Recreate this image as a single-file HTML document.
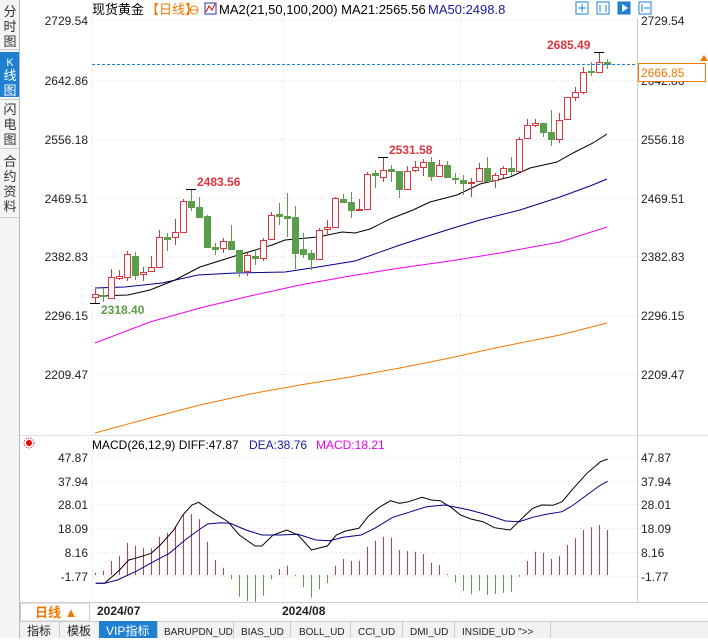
<!DOCTYPE html>
<html><head><meta charset="utf-8"><style>
body{margin:0;width:708px;height:638px;overflow:hidden;background:#fff;font-family:"Liberation Sans","Noto Sans CJK SC",sans-serif;}
svg text{font-family:"Liberation Sans","Noto Sans CJK SC",sans-serif;}
</style></head><body>
<svg id="s" width="708" height="638" xmlns="http://www.w3.org/2000/svg">
<rect x="0" y="0" width="708" height="638" fill="#fff"/>
<rect x="0" y="0" width="19" height="638" fill="#f4f4f4"/>
<line x1="19.5" y1="0" x2="19.5" y2="638" stroke="#bbb"/>
<rect x="0" y="52" width="19" height="45" fill="#1f7fd0"/>
<g font-size="13" fill="#333" text-anchor="middle">
<text x="10" y="16">分</text><text x="10" y="31">时</text><text x="10" y="46">图</text>
<text x="10" y="66" fill="#fff" font-size="11">K</text><text x="10" y="80" fill="#fff">线</text><text x="10" y="95" fill="#fff">图</text>
<text x="10" y="114">闪</text><text x="10" y="129">电</text><text x="10" y="144">图</text>
<text x="10" y="166">合</text><text x="10" y="181">约</text><text x="10" y="196">资</text><text x="10" y="211">料</text>
</g>
<line x1="0" y1="49.5" x2="19" y2="49.5" stroke="#ccc"/><line x1="0" y1="99.5" x2="19" y2="99.5" stroke="#ccc"/><line x1="0" y1="148.5" x2="19" y2="148.5" stroke="#ccc"/><line x1="0" y1="217.5" x2="19" y2="217.5" stroke="#ccc"/>
<g id="g"></g>
<text x="92" y="14" font-size="13" fill="#000">现货黄金</text>
<text x="146" y="14" font-size="13" fill="#f07800">【日线】</text>
<circle cx="194" cy="10" r="4" fill="none" stroke="#f07800"/><line x1="190" y1="10" x2="198" y2="10" stroke="#f07800"/>
<rect x="205" y="3" width="11" height="11" fill="none" stroke="#1a3aa0"/><polyline points="206,12 209,6 212,10 215,4" fill="none" stroke="#d00"/>
<text x="219" y="14" font-size="13" fill="#000">MA2(21,50,100,200)  MA21:2565.56</text>
<text x="428" y="14" font-size="13" fill="#1a1aa0">MA50:2498.8</text>
<g fill="none" stroke="#1f7fd0"><rect x="576" y="2" width="12" height="12"/><rect x="597" y="2" width="12" height="12"/><rect x="618" y="2" width="12" height="12" fill="#1f7fd0"/><rect x="639" y="2" width="12" height="12"/></g>
<g stroke="#1f7fd0" fill="none"><line x1="582" y1="4" x2="582" y2="12"/><line x1="578" y1="8" x2="586" y2="8"/><line x1="600" y1="5" x2="600" y2="12"/><line x1="606" y1="5" x2="606" y2="12"/><line x1="642" y1="4" x2="642" y2="12"/><polyline points="644,8 650,8"/></g>
<polygon points="622,4 628,8 622,12" fill="#fff"/>
<line x1="20" y1="602.5" x2="708" y2="602.5" stroke="#ccc"/>
<rect x="20.5" y="603" width="69" height="18" fill="#fff" stroke="#ccc"/>
<text x="35" y="617" font-size="13" fill="#f07800" font-weight="bold">日线 ▲</text>
<text x="97" y="615" font-size="12" fill="#222" font-weight="bold">2024/07</text>
<text x="282" y="615" font-size="12" fill="#222" font-weight="bold">2024/08</text>
<rect x="20" y="621" width="688" height="17" fill="#f2f2f2"/>
<line x1="20" y1="621.5" x2="708" y2="621.5" stroke="#ccc"/>
<rect x="99" y="621" width="58" height="17" fill="#1f7fd0"/>
<g font-size="12" fill="#222"><text x="27" y="635">指标</text><text x="67" y="635">模板</text><text x="106" y="635" fill="#fff">VIP指标</text></g>
<g font-size="10" fill="#222" font-family="Liberation Mono"><text x="164" y="635">BARUPDN_UD</text><text x="241" y="635">BIAS_UD</text><text x="299" y="635">BOLL_UD</text><text x="358" y="635">CCI_UD</text><text x="410" y="635">DMI_UD</text><text x="462" y="635">INSIDE_UD ">></text></g>
<g stroke="#ccc"><line x1="59.5" y1="621" x2="59.5" y2="638"/><line x1="157.5" y1="621" x2="157.5" y2="638"/><line x1="233.5" y1="621" x2="233.5" y2="638"/><line x1="290.5" y1="621" x2="290.5" y2="638"/><line x1="350.5" y1="621" x2="350.5" y2="638"/><line x1="402.5" y1="621" x2="402.5" y2="638"/><line x1="454.5" y1="621" x2="454.5" y2="638"/><line x1="550.5" y1="621" x2="550.5" y2="638"/></g>
</svg>
<script>
var NS="http://www.w3.org/2000/svg",g=document.getElementById('g');
function el(t,a,txt){var e=document.createElementNS(NS,t);for(var k in a)e.setAttribute(k,a[k]);if(txt!=null)e.textContent=txt;g.appendChild(e);return e;}
var py=[20,80,139,198,256,315,374],pl=["2729.54","2642.86","2556.18","2469.51","2382.83","2296.15","2209.47"];
py.forEach(function(y,i){el('line',{x1:92,y1:y+.5,x2:637,y2:y+.5,stroke:'#ddd','stroke-dasharray':'1,3'});
el('text',{x:88,y:y+5,'font-size':12,fill:'#222','text-anchor':'end'},pl[i]);el('text',{x:641,y:y+5,'font-size':12,fill:'#222'},pl[i]);});
[92,283,460].forEach(function(x){el('line',{x1:x+.5,y1:18,x2:x+.5,y2:600,stroke:'#ddd','stroke-dasharray':'1,3'});});
el('line',{x1:637.5,y1:18,x2:637.5,y2:602,stroke:'#ccc'});
el('line',{x1:20,y1:435.5,x2:708,y2:435.5,stroke:'#ddd'});
var my=[457,481,504,528,552,576],ml=["47.87","37.94","28.01","18.09","8.16","-1.77"];
my.forEach(function(y,i){el('line',{x1:92,y1:y+.5,x2:637,y2:y+.5,stroke:'#ddd','stroke-dasharray':'1,3'});
el('text',{x:88,y:y+5,'font-size':12,fill:'#222','text-anchor':'end'},ml[i]);el('text',{x:641,y:y+5,'font-size':12,fill:'#222'},ml[i]);});
function pl2(pts,c){el('polyline',{points:pts.map(function(p){return p.join(',')}).join(' '),fill:'none',stroke:c,'stroke-width':1});}
pl2([[95,343],[150,322],[200,308],[250,296],[300,285],[350,276],[400,268],[450,261],[500,253],[560,242],[607,227]],'#ee00ee');
pl2([[95,433],[150,418],[200,405],[250,394],[300,385],[350,377],[400,368],[450,358],[500,347],[560,335],[607,323]],'#f07800');
pl2([[95,288],[125,287],[162,283],[198,275],[235,273],[285,272],[318,267],[355,261],[400,245],[450,229],[480,220],[520,210],[560,197],[590,186],[607,179]],'#00008b');
pl2([[95,296],[128,295],[150,290],[175,280],[200,267],[235,256],[272,245],[285,240],[318,237],[342,232],[355,233],[370,229],[390,219],[413,210],[430,202],[457,195],[480,184],[510,177],[530,168],[557,162],[573,153],[593,143],[607,134]],'#000');
var C=[[1,294,297,289,303],[0,295,296,288,302],[1,277,298,269,298],[1,276,278,270,280],[1,254,277,251,281],[0,256,275,252,280],[1,272,274,267,281],[1,267,271,256,271],[1,237,267,230,267],[0,237,239,233,251],
[1,232,237,219,245],[1,201,232,199,232],[0,201,207,189,211],[0,207,217,197,218],[0,216,247,215,247],[0,247,249,243,255],[1,241,248,238,253],[0,241,249,225,249],[0,250,271,250,277],[1,255,271,253,276],
[0,256,258,250,265],[1,240,258,238,261],[1,215,239,212,240],[0,214,216,203,225],[0,216,218,193,237],[0,217,253,206,269],[0,249,254,233,258],[0,253,259,250,270],[1,230,259,228,260],[1,227,229,220,234],
[1,198,227,197,227],[0,199,202,194,203],[0,202,210,192,218],[1,209,210,199,210],[1,174,209,172,209],[0,173,175,170,188],[1,170,177,157,182],[0,169,171,165,182],[0,171,189,171,198],[1,171,189,166,189],
[1,167,170,161,172],[1,162,167,159,176],[0,162,176,157,181],[1,165,176,160,176],[0,165,177,161,177],[0,178,179,173,184],[0,180,183,175,195],[1,182,183,178,197],[1,168,181,163,181],[0,168,181,157,181],
[1,175,180,173,188],[1,168,174,166,178],[0,168,171,157,176],[1,139,171,137,171],[1,125,138,119,138],[1,123,125,119,127],[0,123,132,123,137],[0,132,139,110,146],[1,120,139,113,143],[1,97,119,97,119],
[1,92,97,87,101],[1,72,92,67,94],[0,71,72,62,76],[1,62,72,52,72],[0,62,64,59,69]];
C.forEach(function(c,i){var x=95+8*i,col=c[0]?'#d9363e':'#5a9e4b';
el('line',{x1:x+.5,y1:c[3],x2:x+.5,y2:c[4],stroke:col});
var h=Math.max(1,c[2]-c[1]);
if(c[0])el('rect',{x:x-2.5,y:c[1]+.5,width:6,height:h,fill:'#fff',stroke:col});
else el('rect',{x:x-3,y:c[1],width:7,height:h+1,fill:col});});
el('line',{x1:186,y1:189.5,x2:196,y2:189.5,stroke:'#000'});el('line',{x1:378,y1:157.5,x2:388,y2:157.5,stroke:'#000'});el('line',{x1:594,y1:52.5,x2:604,y2:52.5,stroke:'#000'});el('line',{x1:90,y1:303.5,x2:100,y2:303.5,stroke:'#000'});
el('text',{x:197,y:186,'font-size':12,fill:'#d9363e','font-weight':'bold'},'2483.56');
el('text',{x:389,y:154,'font-size':12,fill:'#d9363e','font-weight':'bold'},'2531.58');
el('text',{x:547,y:49,'font-size':12,fill:'#d9363e','font-weight':'bold'},'2685.49');
el('text',{x:101,y:314,'font-size':12,fill:'#5a9e4b','font-weight':'bold'},'2318.40');
el('line',{x1:92,y1:64.5,x2:637,y2:64.5,stroke:'#1f7fd0','stroke-dasharray':'3,2'});
el('rect',{x:638.5,y:63.5,width:67,height:18,fill:'#fff',stroke:'#f07800'});
el('text',{x:641,y:77,'font-size':12,fill:'#f07800'},'2666.85');
el('polygon',{points:'700,61 704,55 708,61',fill:'#f07800'});
el('circle',{cx:29,cy:443,r:3,fill:'#e00'});el('circle',{cx:29,cy:443,r:5,fill:'none',stroke:'#e00','stroke-dasharray':'1,1.5'});
el('text',{x:92,y:449,'font-size':12,fill:'#000'},'MACD(26,12,9) DIFF:47.87');
el('text',{x:249,y:449,'font-size':12,fill:'#1a1aa0'},'DEA:38.76');
el('text',{x:316,y:449,'font-size':12,fill:'#ee00ee'},'MACD:18.21');
var H=[572.7,570.7,561,556,542.7,545.7,548,548.3,536.7,532.7,526.7,515,514,519.3,541.7,560,567.7,579.3,596.7,601,601.7,595.7,579.3,569,565.7,576,587.3,597.7,589.3,583.3,565.7,559,560.7,560.7,546.7,540.7,536.7,537.7,550,551,551.7,554,562.7,565,574,582.3,590.7,594.3,590.7,595,594,592.7,591.7,576.7,561,551.7,552.7,559,556,545,538.3,530,527.3,525,530];
H.forEach(function(y,i){var x=95+8*i+.5;el('line',{x1:x,y1:575,x2:x,y2:y,stroke:y<575?'#d9363e':'#5a9e4b'});});
function mp(a,c){pl2(a.map(function(p){return [(p[0]/2.215).toFixed(1),(420+p[1]/3).toFixed(1)]}),c);}
mp([[212,490],[232,490],[265,450],[285,420],[300,415],[335,400],[355,375],[385,330],[405,285],[425,255],[440,247],[475,280],[505,305],[530,345],[565,378],[580,378],[605,345],[635,330],[660,345],[690,390],[725,378],[745,345],[765,333],[795,325],[815,290],[840,262],[865,242],[885,250],[905,245],[935,232],[955,240],[975,242],[1000,263],[1020,285],[1045,298],[1070,305],[1095,323],[1130,330],[1160,290],[1180,265],[1200,255],[1225,256],[1245,245],[1270,205],[1300,160],[1330,125],[1346,117]],'#000');
mp([[212,490],[232,490],[260,480],[300,455],[340,425],[375,400],[410,360],[440,330],[460,312],[490,308],[510,310],[545,330],[580,345],[620,345],[660,343],[700,360],[730,362],[760,352],[800,345],[830,325],[870,292],[910,275],[945,260],[985,255],[1010,262],[1040,270],[1080,285],[1120,303],[1150,305],[1180,292],[1210,283],[1245,275],[1270,255],[1300,225],[1330,195],[1346,184]],'#00008b');
</script>
</body></html>
